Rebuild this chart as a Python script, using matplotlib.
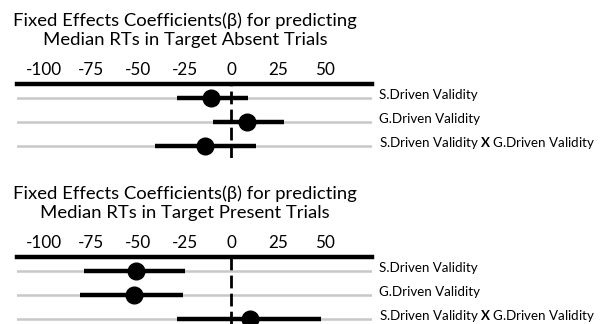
import matplotlib
matplotlib.use("Agg")
import matplotlib.pyplot as plt
from matplotlib.transforms import blended_transform_factory, offset_copy

plt.rcParams['font.family'] = ['Lato', 'DejaVu Sans']
plt.rcParams['mathtext.fontset'] = 'custom'
plt.rcParams['mathtext.rm'] = 'Lato'
plt.rcParams['mathtext.bf'] = 'Lato:bold'

# fixed effects estimates with their interval ends
terms = ["S.Driven Validity", "G.Driven Validity",
         r"S.Driven Validity $\mathbf{X}$ G.Driven Validity"]
ticks = [-100, -75, -50, -25, 0, 25, 50]

absent_est = [-11, 8.5, -14]
absent_lo = [-29, -10, -41]
absent_hi = [9, 28, 13]

present_est = [-51, -52, 10]
present_lo = [-79, -81, -29]
present_hi = [-25, -26, 48]

titles = ["Fixed Effects Coefficients(\u03b2) for predicting\nMedian RTs in Target Absent Trials",
          "Fixed Effects Coefficients(\u03b2) for predicting\nMedian RTs in Target Present Trials"]

W, H = 603, 324
fig = plt.figure(figsize=(W / 100, H / 100), dpi=100)


def panel(top_px, bottom_px, title_px, est, lo, hi, title):
    left, right = 17, 372
    ax = fig.add_axes([left / W, 1 - bottom_px / H, (right - left) / W, (bottom_px - top_px) / H])
    row_px = 24
    y0 = 0.42
    ax.set_ylim(y0 + (bottom_px - top_px) / row_px, y0)
    ax.set_xlim(-114.5, 75)
    rows = [1, 2, 3]
    for y in rows:
        ax.axhline(y, color="#c8c8c8", lw=1.8, zorder=1)
    ax.axvline(0, color="black", lw=2.0, ls=(0, (4.6, 1.9)), zorder=2)
    ax.hlines(rows, lo, hi, color="black", lw=3.2, zorder=3)
    ax.plot(est, rows, "o", color="black", ms=12, zorder=4)

    for s in ["left", "right", "bottom"]:
        ax.spines[s].set_visible(False)
    ax.spines["top"].set_linewidth(3.2)
    ax.set_yticks([])
    ax.xaxis.tick_top()
    ax.set_xticks(ticks)
    ax.set_xticklabels([str(t) for t in ticks])
    ax.tick_params(axis="x", length=0, pad=4, labelsize=12.3)
    ax.patch.set_visible(False)

    tr = offset_copy(blended_transform_factory(fig.transFigure, ax.transData),
                     fig=fig, x=0, y=2.5, units="dots")
    for y, name in zip(rows, terms):
        ax.text(379 / W, y, name, transform=tr, ha="left", va="center",
                fontsize=9.6, clip_on=False)

    fig.text(185 / W, 1 - title_px / H, title, ha="center", va="center",
             fontsize=13.3, linespacing=1.25)


panel(84, 158, 30, absent_est, absent_lo, absent_hi, titles[0])
panel(257, 324, 203, present_est, present_lo, present_hi, titles[1])

fig.savefig("out.png", dpi=100)
